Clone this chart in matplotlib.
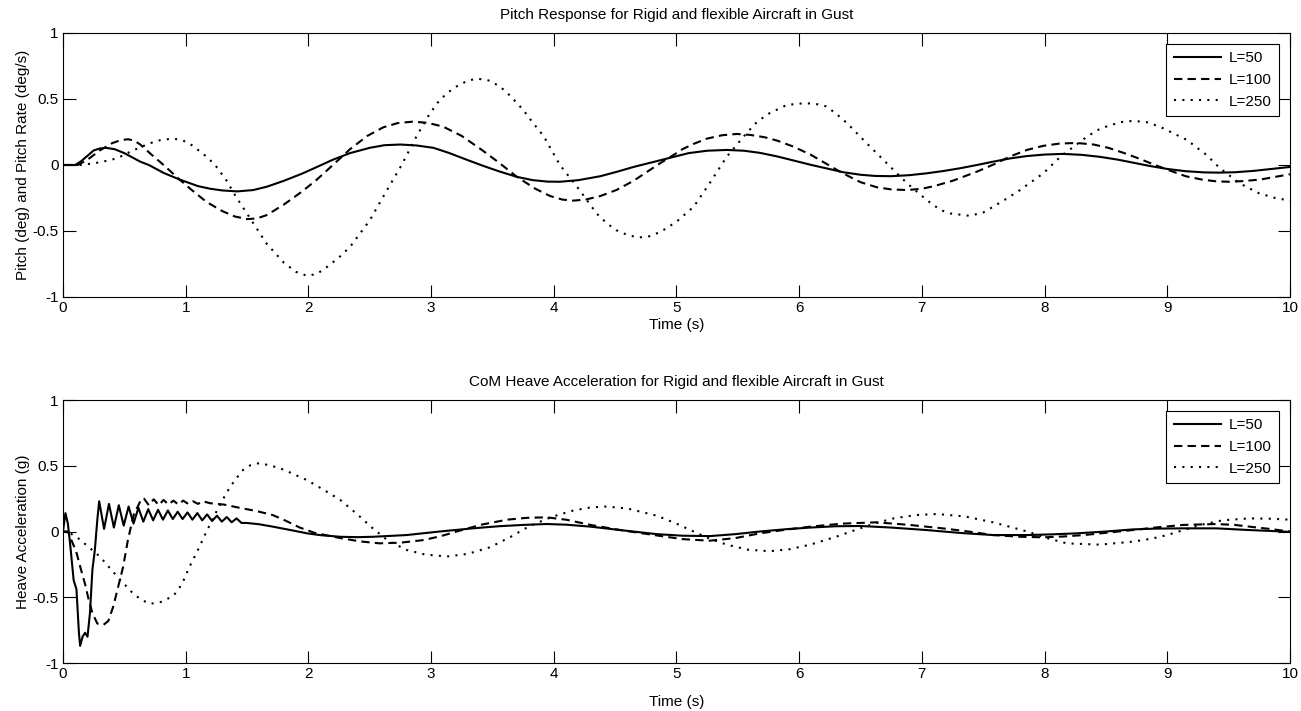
import numpy as np
import matplotlib.pyplot as plt

plt.rcParams['font.family'] = ['Liberation Sans', 'DejaVu Sans']
plt.rcParams['font.size'] = 11

# ---- top plot: pitch response ----
t_p50 = [0, 0.1, 0.15, 0.2, 0.25, 0.3, 0.35, 0.42, 0.5, 0.63, 0.7, 0.82, 0.95, 1.1,
         1.2, 1.3, 1.42, 1.55, 1.66, 1.8, 1.95, 2.07, 2.2, 2.34, 2.5, 2.62, 2.75, 2.88,
         3.02, 3.15, 3.29, 3.42, 3.56, 3.7, 3.83, 3.95, 4.05, 4.2, 4.38, 4.52, 4.65,
         4.8, 4.95, 5.1, 5.25, 5.41, 5.55, 5.68, 5.82, 5.95, 6.1, 6.22, 6.36, 6.5,
         6.62, 6.75, 6.9, 7.04, 7.18, 7.31, 7.45, 7.58, 7.72, 7.86, 8.0, 8.15, 8.3,
         8.45, 8.6, 8.72, 8.86, 9.0, 9.15, 9.3, 9.42, 9.55, 9.7, 9.85, 10.0]
p50 = [0, 0, 0.03, 0.07, 0.11, 0.125, 0.13, 0.12, 0.09, 0.025, 0.0, -0.06, -0.11,
       -0.16, -0.18, -0.193, -0.2, -0.19, -0.165, -0.12, -0.065, -0.015, 0.04, 0.09,
       0.13, 0.15, 0.155, 0.148, 0.13, 0.09, 0.04, -0.005, -0.05, -0.09, -0.115,
       -0.126, -0.127, -0.115, -0.085, -0.05, -0.015, 0.02, 0.055, 0.09, 0.108,
       0.114, 0.108, 0.092, 0.065, 0.035, 0.0, -0.025, -0.055, -0.074, -0.083,
       -0.085, -0.077, -0.063, -0.045, -0.025, 0.0, 0.025, 0.05, 0.068, 0.079,
       0.084, 0.077, 0.062, 0.04, 0.018, -0.008, -0.03, -0.047, -0.056, -0.058,
       -0.055, -0.045, -0.03, -0.015]

t_p100 = [0, 0.12, 0.2, 0.3, 0.4, 0.47, 0.53, 0.58, 0.63, 0.72, 0.82, 0.95, 1.05,
          1.17, 1.3, 1.4, 1.5, 1.58, 1.66, 1.8, 1.95, 2.07, 2.2, 2.34, 2.48, 2.61,
          2.73, 2.85, 2.97, 3.1, 3.25, 3.42, 3.55, 3.7, 3.85, 3.97, 4.07, 4.16, 4.26,
          4.38, 4.51, 4.65, 4.78, 4.87, 4.95, 5.05, 5.14, 5.25, 5.37, 5.49, 5.6,
          5.72, 5.82, 5.95, 6.09, 6.22, 6.36, 6.5, 6.63, 6.75, 6.88, 7.0, 7.1, 7.25,
          7.45, 7.6, 7.72, 7.86, 7.99, 8.12, 8.26, 8.4, 8.52, 8.65, 8.78, 8.9, 9.03,
          9.15, 9.28, 9.4, 9.5, 9.62, 9.76, 9.88, 10.0]
p100 = [0, 0, 0.04, 0.11, 0.165, 0.188, 0.195, 0.185, 0.155, 0.08, 0.0, -0.11,
        -0.19, -0.28, -0.35, -0.39, -0.41, -0.405, -0.38, -0.3, -0.2, -0.11, 0.0,
        0.12, 0.22, 0.285, 0.318, 0.328, 0.32, 0.29, 0.22, 0.11, 0.02, -0.09, -0.18,
        -0.235, -0.262, -0.27, -0.262, -0.235, -0.19, -0.12, -0.04, 0.015, 0.06,
        0.12, 0.16, 0.2, 0.225, 0.235, 0.228, 0.21, 0.185, 0.14, 0.08, 0.01, -0.065,
        -0.13, -0.168, -0.185, -0.19, -0.18, -0.16, -0.12, -0.05, 0.01, 0.065,
        0.115, 0.145, 0.162, 0.167, 0.155, 0.13, 0.09, 0.045, 0.0, -0.045, -0.085,
        -0.11, -0.124, -0.127, -0.122, -0.11, -0.09, -0.07]

t_p250 = [0, 0.15, 0.3, 0.44, 0.57, 0.71, 0.8, 0.9, 0.98, 1.05, 1.12, 1.17, 1.24,
          1.33, 1.41, 1.48, 1.55, 1.66, 1.8, 1.9, 1.99, 2.07, 2.15, 2.25, 2.34, 2.5,
          2.61, 2.76, 2.88, 2.97, 3.05, 3.13, 3.21, 3.3, 3.38, 3.47, 3.56, 3.65, 3.75,
          3.83, 3.92, 4.05, 4.19, 4.35, 4.43, 4.51, 4.6, 4.69, 4.78, 4.87, 5.0, 5.14,
          5.27, 5.41, 5.57, 5.66, 5.76, 5.9, 6.05, 6.15, 6.22, 6.3, 6.39, 6.55, 6.77,
          6.88, 7.04, 7.15, 7.23, 7.39, 7.5, 7.58, 7.7, 7.8, 7.99, 8.13, 8.31, 8.42,
          8.5, 8.62, 8.72, 8.83, 8.94, 9.05, 9.16, 9.32, 9.43, 9.59, 9.75, 9.88, 10.0]
p250 = [0, 0, 0.02, 0.05, 0.11, 0.165, 0.19, 0.2, 0.185, 0.15, 0.1, 0.063, 0.0,
        -0.114, -0.24, -0.34, -0.44, -0.596, -0.74, -0.81, -0.84, -0.825, -0.774,
        -0.7, -0.62, -0.42, -0.24, 0.0, 0.215, 0.36, 0.469, 0.545, 0.596, 0.64,
        0.654, 0.64, 0.596, 0.52, 0.418, 0.32, 0.215, 0.0, -0.165, -0.368, -0.44,
        -0.494, -0.53, -0.55, -0.54, -0.507, -0.43, -0.317, -0.139, 0.063, 0.24,
        0.33, 0.393, 0.455, 0.469, 0.46, 0.444, 0.39, 0.317, 0.165, -0.038, -0.139,
        -0.266, -0.34, -0.367, -0.385, -0.36, -0.317, -0.25, -0.19, -0.063, 0.063,
        0.19, 0.26, 0.29, 0.325, 0.334, 0.325, 0.29, 0.24, 0.19, 0.076, -0.025,
        -0.139, -0.215, -0.25, -0.27]

# ---- bottom plot: CoM heave acceleration ----
t_h50 = [0, 0.02, 0.04, 0.06, 0.087, 0.11, 0.13, 0.14, 0.16, 0.18, 0.2, 0.22, 0.24,
         0.26, 0.28,
         0.295, 0.335, 0.375, 0.415, 0.455, 0.495, 0.535, 0.575, 0.615, 0.655, 0.695,
         0.735, 0.775, 0.815, 0.855, 0.895, 0.935, 0.975, 1.015, 1.055, 1.095, 1.135,
         1.175, 1.215, 1.255, 1.295, 1.335, 1.375, 1.415, 1.455,
         1.5, 1.6, 1.71, 1.85, 1.99, 2.1, 2.26, 2.4, 2.53, 2.8, 3.07, 3.34, 3.55,
         3.75, 3.94, 4.1, 4.3, 4.55, 4.84, 5.05, 5.27, 5.48, 5.68, 5.9, 6.09, 6.3,
         6.5, 6.75, 7.04, 7.3, 7.58, 7.86, 8.05, 8.26, 8.5, 8.72, 8.9, 9.13, 9.4,
         9.67, 9.85, 10.0]
h50 = [0, 0.14, 0.06, -0.11, -0.37, -0.44, -0.77, -0.87, -0.8, -0.77, -0.8, -0.62,
       -0.29, -0.14, 0.09,
       0.23, 0.02, 0.21, 0.03, 0.2, 0.045, 0.19, 0.06, 0.18, 0.075, 0.17, 0.085, 0.165,
       0.09, 0.16, 0.095, 0.15, 0.095, 0.145, 0.09, 0.14, 0.085, 0.13, 0.08, 0.12,
       0.075, 0.11, 0.07, 0.1, 0.065,
       0.065, 0.055, 0.037, 0.012, -0.014, -0.028, -0.04, -0.043, -0.04, -0.027,
       0.0, 0.024, 0.04, 0.05, 0.057, 0.052, 0.037, 0.01, -0.02, -0.032, -0.035,
       -0.02, 0.0, 0.018, 0.03, 0.04, 0.042, 0.03, 0.011, -0.01, -0.027, -0.027,
       -0.022, -0.014, 0.0, 0.016, 0.022, 0.024, 0.024, 0.011, 0.004, -0.003]

t_h100 = [0, 0.04, 0.066, 0.107, 0.147, 0.18, 0.21, 0.24, 0.28, 0.33, 0.37, 0.41,
          0.45, 0.49, 0.53, 0.56, 0.58, 0.61, 0.64,
          0.66, 0.7, 0.74, 0.78, 0.82, 0.86, 0.9, 0.94, 0.98, 1.02, 1.06, 1.1, 1.14,
          1.2, 1.31, 1.39, 1.44, 1.58, 1.71, 1.82, 1.93, 2.05, 2.26, 2.42, 2.58, 2.75,
          2.94, 3.08, 3.21, 3.4, 3.62, 3.78, 3.94, 4.1, 4.3, 4.55, 4.84, 5.05, 5.27,
          5.48, 5.68, 5.9, 6.09, 6.35, 6.63, 6.9, 7.17, 7.38, 7.58, 7.8, 7.99, 8.15,
          8.32, 8.5, 8.72, 8.92, 9.13, 9.4, 9.55, 9.67, 9.85, 10.0]
h100 = [0, 0, -0.06, -0.15, -0.29, -0.4, -0.52, -0.62, -0.7, -0.71, -0.68, -0.57,
        -0.42, -0.27, -0.06, 0.06, 0.14, 0.19, 0.25,
        0.25, 0.2, 0.245, 0.2, 0.24, 0.205, 0.235, 0.205, 0.235, 0.21, 0.23, 0.21,
        0.23, 0.215, 0.205, 0.19, 0.18, 0.155, 0.125, 0.08, 0.03, -0.01, -0.05,
        -0.075, -0.09, -0.085, -0.065, -0.035, 0.0, 0.05, 0.09, 0.104, 0.108, 0.09,
        0.05, 0.01, -0.03, -0.058, -0.07, -0.05, -0.014, 0.015, 0.037, 0.06, 0.07,
        0.05, 0.024, 0.0, -0.027, -0.04, -0.044, -0.038, -0.027, -0.01, 0.011, 0.032,
        0.05, 0.057, 0.05, 0.037, 0.018, 0.0]

t_h250 = [0, 0.03, 0.11, 0.2, 0.3, 0.44, 0.57, 0.64, 0.71, 0.8, 0.9, 0.97, 1.03,
          1.1, 1.17, 1.25, 1.33, 1.4, 1.47, 1.53, 1.6, 1.7, 1.8, 1.99, 2.12, 2.26,
          2.4, 2.53, 2.65, 2.8, 2.95, 3.13, 3.3, 3.48, 3.65, 3.8, 3.98, 4.16, 4.3,
          4.43, 4.6, 4.84, 5.0, 5.14, 5.27, 5.41, 5.58, 5.76, 5.92, 6.09, 6.3, 6.5,
          6.63, 6.77, 6.95, 7.12, 7.35, 7.58, 7.72, 7.86, 8.02, 8.18, 8.45, 8.72,
          8.87, 9.0, 9.13, 9.27, 9.45, 9.67, 9.85, 10.0]
h250 = [0, 0, -0.04, -0.11, -0.19, -0.34, -0.47, -0.52, -0.55, -0.535, -0.49, -0.4,
        -0.27, -0.14, 0.0, 0.15, 0.29, 0.39, 0.47, 0.505, 0.52, 0.5, 0.47, 0.39, 0.32,
        0.24, 0.13, 0.02, -0.07, -0.14, -0.175, -0.19, -0.17, -0.12, -0.04, 0.04,
        0.11, 0.16, 0.183, 0.19, 0.175, 0.12, 0.06, 0.0, -0.055, -0.1, -0.138, -0.15,
        -0.135, -0.1, -0.04, 0.025, 0.065, 0.1, 0.125, 0.133, 0.115, 0.07, 0.035,
        0.0, -0.05, -0.09, -0.1, -0.077, -0.055, -0.027, 0.01, 0.05, 0.085, 0.1,
        0.097, 0.09]

labels = ['L=50', 'L=100', 'L=250']
xticks = list(range(11))
yticks = [-1, -0.5, 0, 0.5, 1]
ytick_labels = ['-1', '-0.5', '0', '0.5', '1']

styles = ['-', (0, (4, 2.5)), (0, (1, 3))]

fig = plt.figure(figsize=(13.01, 7.11), dpi=100)
ax1 = fig.add_axes([0.0484, 0.5823, 0.9431, 0.3713])
ax2 = fig.add_axes([0.0484, 0.0675, 0.9431, 0.3699])

panels = [
    (ax1, [(t_p50, p50), (t_p100, p100), (t_p250, p250)],
     'Pitch Response for Rigid and flexible Aircraft in Gust',
     'Pitch (deg) and Pitch Rate (deg/s)', 2),
    (ax2, [(t_h50, h50), (t_h100, h100), (t_h250, h250)],
     'CoM Heave Acceleration for Rigid and flexible Aircraft in Gust',
     'Heave Acceleration (g)', 10),
]

for ax, series, title, ylabel, xpad in panels:
    for (t, y), ls, lab in zip(series, styles, labels):
        ax.plot(t, y, color='black', linestyle=ls, linewidth=1.5, label=lab)
    ax.set_xlim(0, 10)
    ax.set_ylim(-1, 1)
    ax.set_xticks(xticks)
    ax.set_xticklabels([str(v) for v in xticks])
    ax.set_yticks(yticks)
    ax.set_yticklabels(ytick_labels)
    ax.tick_params(direction='in', length=9, width=0.8, top=True, right=True, pad=3)
    for sp in ax.spines.values():
        sp.set_linewidth(0.8)
    ax.set_title(title, fontsize=11, pad=10)
    ax.set_xlabel('Time (s)', labelpad=xpad)
    ax.set_ylabel(ylabel, labelpad=2)
    leg = ax.legend(loc='upper right', fancybox=False, framealpha=1, edgecolor='black',
                    handlelength=3.1, borderaxespad=0.7, labelspacing=0.5,
                    handletextpad=0.5, borderpad=0.5)
    leg.get_frame().set_linewidth(0.8)

fig.savefig('out.png', dpi=100)
